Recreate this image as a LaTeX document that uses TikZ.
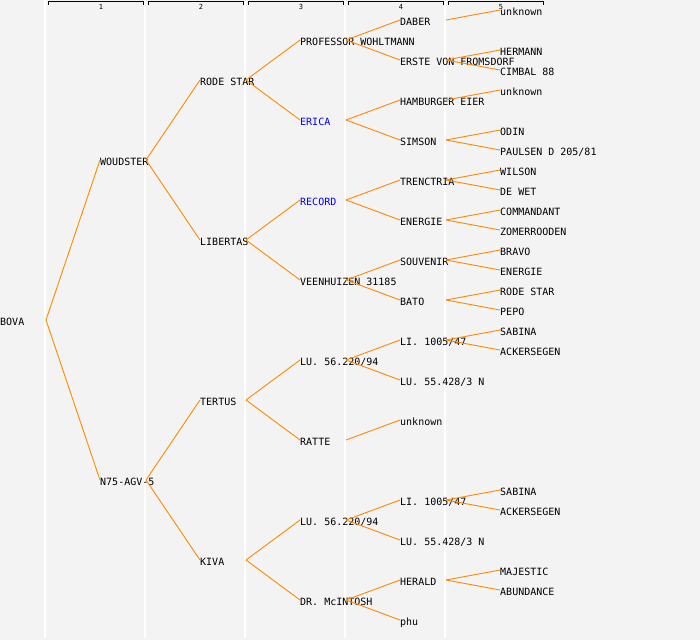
\documentclass[tikz,border=0pt]{standalone}
\usepackage{fontspec}
\setmonofont{DejaVu Sans Mono}
\usepackage{xcolor}
\usepackage{tikz}
\usetikzlibrary{calc}
\definecolor{bggray}{HTML}{F3F3F3}
\definecolor{linkorange}{HTML}{FF8A00}
\tikzset{
  person/.style={anchor=west, inner sep=0pt, text height=11pt, text depth=0pt,
    font=\ttfamily\fontsize{10}{12}\selectfont},
  marked/.style={person, text=blue},
  link/.style={draw=linkorange, line width=0.9pt},
  sep/.style={draw=white, line width=1.5pt},
  bracket/.style={draw=black, line width=1pt},
  colnum/.style={inner sep=0pt, font=\ttfamily\fontsize{7}{8}\selectfont}
}
\begin{document}
\begin{tikzpicture}[x=1pt, y=-1pt]
    % Background
    \fill[bggray] (0,0) rectangle (700,640);
    \useasboundingbox (0,0) rectangle (700,640);
    % Column separators
    \foreach \x in {45,145,245,345,445}
      \draw[sep] (\x,0) -- (\x,638);
    % Column headers
    \foreach \i in {1,...,5} {
      \draw[bracket] (100*\i-52,4.5) -- (100*\i-52,1.5) -- (100*\i+43,1.5) -- (100*\i+43,4.5);
      \node[colnum] (col\i) at (100*\i+1,7) {\i};
    }
    % Generation 0-2
    \node[person] (bova) at (0,320) {BOVA};
    \node[person] (woudster) at (100,160) {WOUDSTER};
    \node[person] (nagv) at (100,480) {N75-AGV-5};
    \node[person] (rodestar) at (200,80) {RODE STAR};
    \node[person] (libertas) at (200,240) {LIBERTAS};
    \node[person] (tertus) at (200,400) {TERTUS};
    \node[person] (kiva) at (200,560) {KIVA};
    % Generation 3
    \node[person] (wohltmann) at (300,40) {PROFESSOR WOHLTMANN};
    \node[marked] (erica) at (300,120) {ERICA};
    \node[marked] (record) at (300,200) {RECORD};
    \node[person] (veenhuizen) at (300,280) {VEENHUIZEN 31185};
    \node[person] (lua) at (300,360) {LU. 56.220/94};
    \node[person] (ratte) at (300,440) {RATTE};
    \node[person] (lub) at (300,520) {LU. 56.220/94};
    \node[person] (mcintosh) at (300,600) {DR. McINTOSH};
    % Generation 4
    \node[person] (daber) at (400,20) {DABER};
    \node[person] (erste) at (400,60) {ERSTE VON FROMSDORF};
    \node[person] (hamburger) at (400,100) {HAMBURGER EIER};
    \node[person] (simson) at (400,140) {SIMSON};
    \node[person] (trenctria) at (400,180) {TRENCTRIA};
    \node[person] (energiea) at (400,220) {ENERGIE};
    \node[person] (souvenir) at (400,260) {SOUVENIR};
    \node[person] (bato) at (400,300) {BATO};
    \node[person] (lia) at (400,340) {LI. 1005/47};
    \node[person] (lusa) at (400,380) {LU. 55.428/3 N};
    \node[person] (unknownc) at (400,420) {unknown};
    \node[person] (lib) at (400,500) {LI. 1005/47};
    \node[person] (lusb) at (400,540) {LU. 55.428/3 N};
    \node[person] (herald) at (400,580) {HERALD};
    \node[person] (phu) at (400,620) {phu};
    % Generation 5
    \node[person] (unknowna) at (500,10) {unknown};
    \node[person] (hermann) at (500,50) {HERMANN};
    \node[person] (cimbal) at (500,70) {CIMBAL 88};
    \node[person] (unknownb) at (500,90) {unknown};
    \node[person] (odin) at (500,130) {ODIN};
    \node[person] (paulsen) at (500,150) {PAULSEN D 205/81};
    \node[person] (wilson) at (500,170) {WILSON};
    \node[person] (dewet) at (500,190) {DE WET};
    \node[person] (commandant) at (500,210) {COMMANDANT};
    \node[person] (zomerrooden) at (500,230) {ZOMERROODEN};
    \node[person] (bravo) at (500,250) {BRAVO};
    \node[person] (energieb) at (500,270) {ENERGIE};
    \node[person] (rodestarb) at (500,290) {RODE STAR};
    \node[person] (pepo) at (500,310) {PEPO};
    \node[person] (sabinaa) at (500,330) {SABINA};
    \node[person] (ackersegena) at (500,350) {ACKERSEGEN};
    \node[person] (sabinab) at (500,490) {SABINA};
    \node[person] (ackersegenb) at (500,510) {ACKERSEGEN};
    \node[person] (majestic) at (500,570) {MAJESTIC};
    \node[person] (abundance) at (500,590) {ABUNDANCE};
    % Links parent -> child
    \foreach \p/\c in {bova/woudster, bova/nagv,
        woudster/rodestar, woudster/libertas, nagv/tertus, nagv/kiva,
        rodestar/wohltmann, rodestar/erica, libertas/record, libertas/veenhuizen,
        tertus/lua, tertus/ratte, kiva/lub, kiva/mcintosh,
        wohltmann/daber, wohltmann/erste, erica/hamburger, erica/simson,
        record/trenctria, record/energiea, veenhuizen/souvenir, veenhuizen/bato,
        lua/lia, lua/lusa, ratte/unknownc, lub/lib, lub/lusb,
        mcintosh/herald, mcintosh/phu,
        daber/unknowna, erste/hermann, erste/cimbal, hamburger/unknownb,
        simson/odin, simson/paulsen, trenctria/wilson, trenctria/dewet,
        energiea/commandant, energiea/zomerrooden, souvenir/bravo, souvenir/energieb,
        bato/rodestarb, bato/pepo, lia/sabinaa, lia/ackersegena,
        lib/sabinab, lib/ackersegenb, herald/majestic, herald/abundance}
      \draw[link] ([xshift=46pt]\p.west) -- (\c.west);
  \end{tikzpicture}
\end{document}
